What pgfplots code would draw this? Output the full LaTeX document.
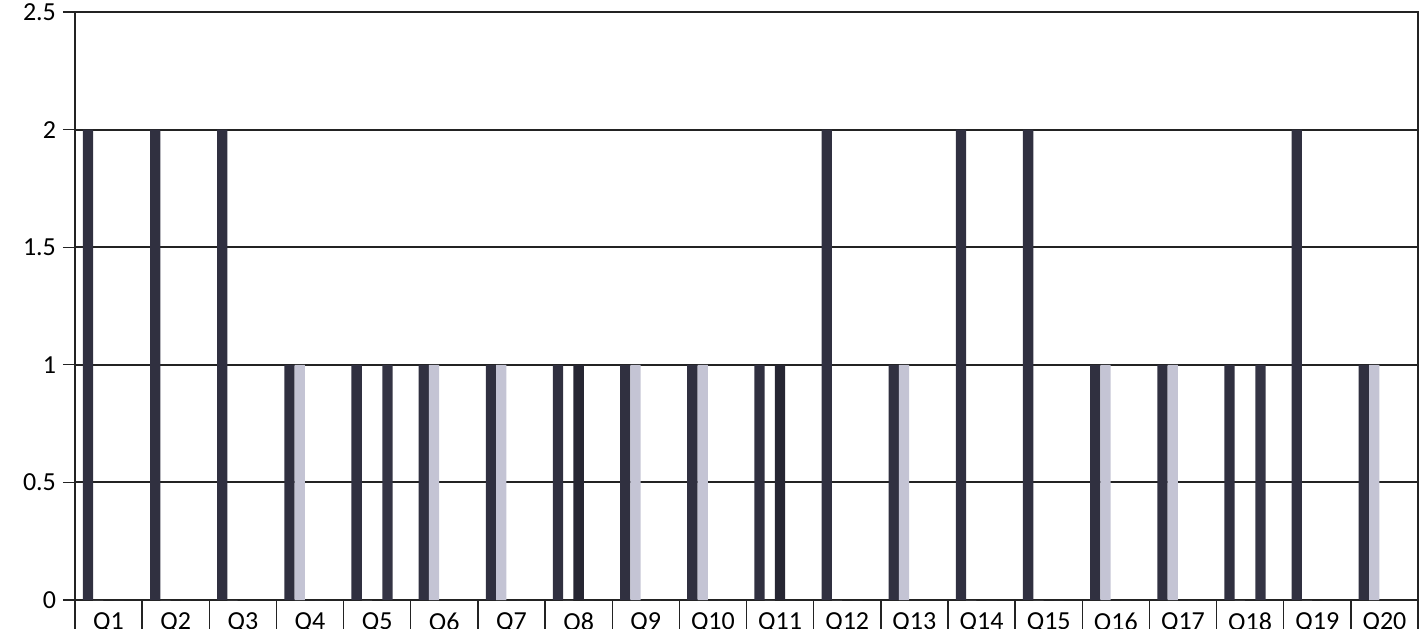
\documentclass[border=0pt]{standalone}
\usepackage{fontspec}
\setmainfont{Carlito}
\usepackage{pgfplots}
\pgfplotsset{compat=1.18}
\usepackage{pgfplotstable}

\definecolor{sone}{RGB}{48,48,64}
\definecolor{stwo}{RGB}{196,196,212}
\definecolor{sthree}{RGB}{38,38,50}
\definecolor{sfour}{RGB}{52,52,68}
\definecolor{gridc}{RGB}{35,35,35}

% one row per question, columns = the series of answers
\pgfplotstableread{
q  a  b  c  d
1  2  0  0  0
2  2  0  0  0
3  2  0  0  0
4  1  1  0  0
5  1  0  0  1
6  1  1  0  0
7  1  1  0  0
8  1  0  1  0
9  1  1  0  0
10 1  1  0  0
11 1  0  1  0
12 2  0  0  0
13 1  1  0  0
14 2  0  0  0
15 2  0  0  0
16 1  1  0  0
17 1  1  0  0
18 1  0  0  1
19 2  0  0  0
20 1  1  0  0
}\answers

\begin{document}
\begin{tikzpicture}
\begin{axis}[
  width=671.5pt, height=294pt,
  scale only axis,
  tick label style={font=\fontsize{13}{15}\selectfont},
  /pgf/number format/assume math mode=true,
  xmin=0.5, xmax=20.5,
  ymin=0, ymax=2.5,
  ytick={0,0.5,...,2.5},
  yticklabels={0,0.5,1,1.5,2,2.5},
  xtick={1,...,20},
  xticklabels={Q1,Q2,Q3,Q4,Q5,Q6,Q7,Q8,Q9,Q10,Q11,Q12,Q13,Q14,Q15,Q16,Q17,Q18,Q19,Q20},
  minor xtick={0.5,1.5,...,20.5},
  tick align=outside,
  xtick pos=bottom, ytick pos=left,
  major tick length=6pt,
  minor tick length=30pt,
  major x tick style={draw=none},
  minor x tick style={gridc,line width=0.7pt},
  y tick style={gridc,line width=0.6pt},
  ymajorgrids,
  grid style={gridc,line width=1pt},
  axis line style={gridc,line width=0.7pt},
  xticklabel style={yshift=3pt},
  yticklabel style={anchor=east, xshift=0pt},
  ybar, bar width=0.153,
  every axis plot/.append style={draw=none},
]
\addplot[fill=sone,   bar shift=-0.306] table[x=q,y=a]{\answers};
\addplot[fill=stwo,   bar shift=-0.153] table[x=q,y=b]{\answers};
\addplot[fill=sthree, bar shift=0]      table[x=q,y=c]{\answers};
\addplot[fill=sfour,  bar shift=0.153]  table[x=q,y=d]{\answers};
\end{axis}
\pgfresetboundingbox
\path[use as bounding box] (-37.5pt,-14pt) rectangle (675.5pt,300pt);
\end{tikzpicture}
\end{document}
